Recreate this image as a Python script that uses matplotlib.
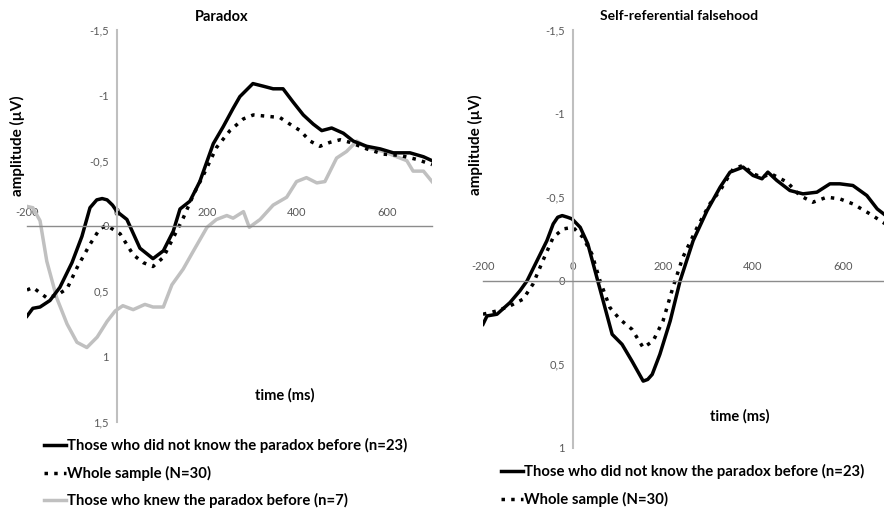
import matplotlib
matplotlib.use("Agg")
import matplotlib.pyplot as plt
from matplotlib.lines import Line2D

plt.rcParams['font.family'] = ['Lato', 'DejaVu Sans']

# ---- Paradox panel ----
par_nk_t = [-200, -187, -171, -149, -127, -100, -78, -60, -45, -33, -22, -10, 0, 22, 51, 80, 103, 125, 140,
            162, 184, 214, 236, 258, 273, 302, 325, 347, 369, 391, 414, 436, 455, 477, 503, 525, 555, 585,
            614, 651, 681, 700]
par_nk_v = [0.69, 0.63, 0.62, 0.57, 0.47, 0.28, 0.08, -0.14, -0.20, -0.21, -0.20, -0.16, -0.11, -0.05,
            0.17, 0.25, 0.19, 0.04, -0.13, -0.19, -0.34, -0.63, -0.76, -0.90, -0.99, -1.09, -1.07, -1.05,
            -1.05, -0.95, -0.85, -0.78, -0.73, -0.75, -0.71, -0.65, -0.61, -0.59, -0.56, -0.56, -0.53, -0.50]

par_all_t = [-200, -187, -156, -134, -111, -89, -60, -38, -25, -16, 7, 36, 58, 80, 103, 125, 147, 170, 192,
             221, 251, 281, 303, 333, 362, 384, 407, 429, 451, 473, 496, 518, 555, 592, 629, 666, 700]
par_all_v = [0.49, 0.47, 0.55, 0.53, 0.48, 0.32, 0.14, 0.02, 0.0, 0.01, 0.06, 0.22, 0.28, 0.31, 0.24, 0.09,
             -0.06, -0.24, -0.39, -0.60, -0.73, -0.82, -0.85, -0.84, -0.83, -0.78, -0.73, -0.65, -0.61,
             -0.64, -0.66, -0.64, -0.59, -0.55, -0.54, -0.51, -0.47]

par_kn_t = [-200, -187, -171, -156, -134, -111, -89, -67, -44, -22, -4, 13, 36, 62, 80, 103, 122, 147, 170,
            200, 221, 244, 258, 281, 294, 318, 347, 377, 399, 421, 444, 462, 488, 510, 533, 555, 592, 629,
            644, 658, 681, 700]
par_kn_v = [-0.15, -0.14, -0.04, 0.27, 0.55, 0.75, 0.89, 0.93, 0.85, 0.73, 0.65, 0.61, 0.64, 0.60, 0.62,
            0.62, 0.45, 0.33, 0.19, 0.01, -0.05, -0.08, -0.06, -0.11, 0.01, -0.05, -0.16, -0.22, -0.34,
            -0.37, -0.33, -0.34, -0.52, -0.57, -0.65, -0.60, -0.57, -0.52, -0.50, -0.42, -0.42, -0.34]

# ---- Self-referential falsehood panel ----
srf_nk_t = [-200, -191, -169, -140, -118, -102, -80, -58, -44, -34, -24, -12, -2, 16, 33, 53, 67, 87, 109,
            131, 156, 166, 176, 193, 216, 238, 267, 298, 327, 349, 378, 400, 420, 433, 453, 482, 511, 542,
            571, 593, 622, 653, 676, 700]
srf_nk_v = [0.26, 0.21, 0.20, 0.13, 0.06, 0.0, -0.12, -0.24, -0.34, -0.38, -0.39, -0.38, -0.37, -0.32,
            -0.22, -0.02, 0.12, 0.32, 0.38, 0.48, 0.60, 0.59, 0.56, 0.44, 0.24, 0.0, -0.24, -0.42, -0.56,
            -0.65, -0.68, -0.63, -0.61, -0.65, -0.60, -0.54, -0.52, -0.53, -0.58, -0.58, -0.57, -0.51,
            -0.43, -0.38]

srf_all_t = [-200, -169, -140, -111, -89, -67, -44, -22, 0, 22, 42, 60, 82, 104, 131, 156, 178, 200, 222,
             244, 276, 304, 327, 356, 378, 400, 420, 440, 476, 504, 533, 564, 593, 622, 660, 700]
srf_all_v = [0.20, 0.18, 0.15, 0.11, 0.02, -0.12, -0.26, -0.31, -0.32, -0.26, -0.16, 0.0, 0.16, 0.23,
             0.29, 0.40, 0.36, 0.24, 0.04, -0.14, -0.32, -0.46, -0.54, -0.67, -0.69, -0.64, -0.62, -0.64,
             -0.59, -0.51, -0.47, -0.50, -0.49, -0.46, -0.40, -0.33]

y_ticks_left = [-1.5, -1, -0.5, 0, 0.5, 1, 1.5]
y_ticks_right = [-1.5, -1, -0.5, 0, 0.5, 1]
x_ticks = [-200, 0, 200, 400, 600]

lbl_nk = "Those who did not know the paradox before (n=23)"
lbl_all = "Whole sample (N=30)"
lbl_kn = "Those who knew the paradox before (n=7)"

W, H = 884, 512
fig = plt.figure(figsize=(W / 100, H / 100), dpi=100)


def px(x0, y0, x1, y1):
    # pixel box -> figure fraction rect
    return [x0 / W, 1 - y1 / H, (x1 - x0) / W, (y1 - y0) / H]


def style_axes(ax, ylo, yticks):
    ax.set_xlim(-200, 700)
    ax.set_ylim(ylo, -1.5)
    ax.spines['right'].set_visible(False)
    ax.spines['bottom'].set_visible(False)
    ax.spines['left'].set_position(('data', 0))
    ax.spines['top'].set_position(('data', 0))
    ax.spines['left'].set_color('#bfbfbf')
    ax.spines['left'].set_linewidth(1.5)
    ax.spines['top'].set_color('#8c8c8c')
    ax.spines['top'].set_linewidth(1.0)
    ax.xaxis.tick_top()
    ax.set_xticks(x_ticks)
    ax.set_xticklabels([str(v) for v in x_ticks])
    ax.set_yticks(yticks)
    ax.set_yticklabels([('%g' % v).replace('.', ',') for v in yticks])
    ax.tick_params(length=0, labelsize=8, colors='#595959', pad=6)
    ax.patch.set_visible(False)


dot = (0, (1, 1.8))

ax1 = fig.add_axes(px(27, 30, 432, 422))
style_axes(ax1, 1.5, y_ticks_left)
ax1.plot(par_kn_t, par_kn_v, color='#c0c0c0', lw=2.5, solid_joinstyle='round')
ax1.plot(par_all_t, par_all_v, color='black', lw=2.5, linestyle=dot)
ax1.plot(par_nk_t, par_nk_v, color='black', lw=2.5, solid_joinstyle='round')

ax2 = fig.add_axes(px(483, 30, 888, 448))
style_axes(ax2, 1.0, y_ticks_right)
ax2.plot(srf_all_t, srf_all_v, color='black', lw=2.5, linestyle=dot)
ax2.plot(srf_nk_t, srf_nk_v, color='black', lw=2.5, solid_joinstyle='round')

fs = 10
fig.text(222 / W, 1 - 17 / H, "Paradox", ha='center', va='center', fontsize=10.5, fontweight='bold')
fig.text(679 / W, 1 - 16 / H, "Self-referential falsehood", ha='center', va='center', fontsize=fs, fontweight='bold')
fig.text(17 / W, 1 - 146 / H, "amplitude (µV)", ha='center', va='center', rotation=90, fontsize=11, fontweight='bold')
fig.text(475 / W, 1 - 145 / H, "amplitude (µV)", ha='center', va='center', rotation=90, fontsize=11, fontweight='bold')
fig.text(285 / W, 1 - 395 / H, "time (ms)", ha='center', va='center', fontsize=10.5, fontweight='bold')
fig.text(740 / W, 1 - 416 / H, "time (ms)", ha='center', va='center', fontsize=10.5, fontweight='bold')

h_nk = Line2D([], [], color='black', lw=2.5)
h_all = Line2D([], [], color='black', lw=2.5, linestyle=dot)
h_kn = Line2D([], [], color='#c0c0c0', lw=2.5)

leg_kw = dict(frameon=False, handlelength=1.45, handletextpad=0.1, labelspacing=0.85,
              loc='upper left', prop={'size': 10.7, 'weight': 'bold'}, borderaxespad=0, borderpad=0)
fig.legend([h_nk, h_all, h_kn], [lbl_nk, lbl_all, lbl_kn], bbox_to_anchor=(44 / W, 1 - 438 / H), **leg_kw)
fig.legend([h_nk, h_all], [lbl_nk, lbl_all], bbox_to_anchor=(501 / W, 1 - 464 / H), **leg_kw)

fig.savefig("out.png", dpi=100)
